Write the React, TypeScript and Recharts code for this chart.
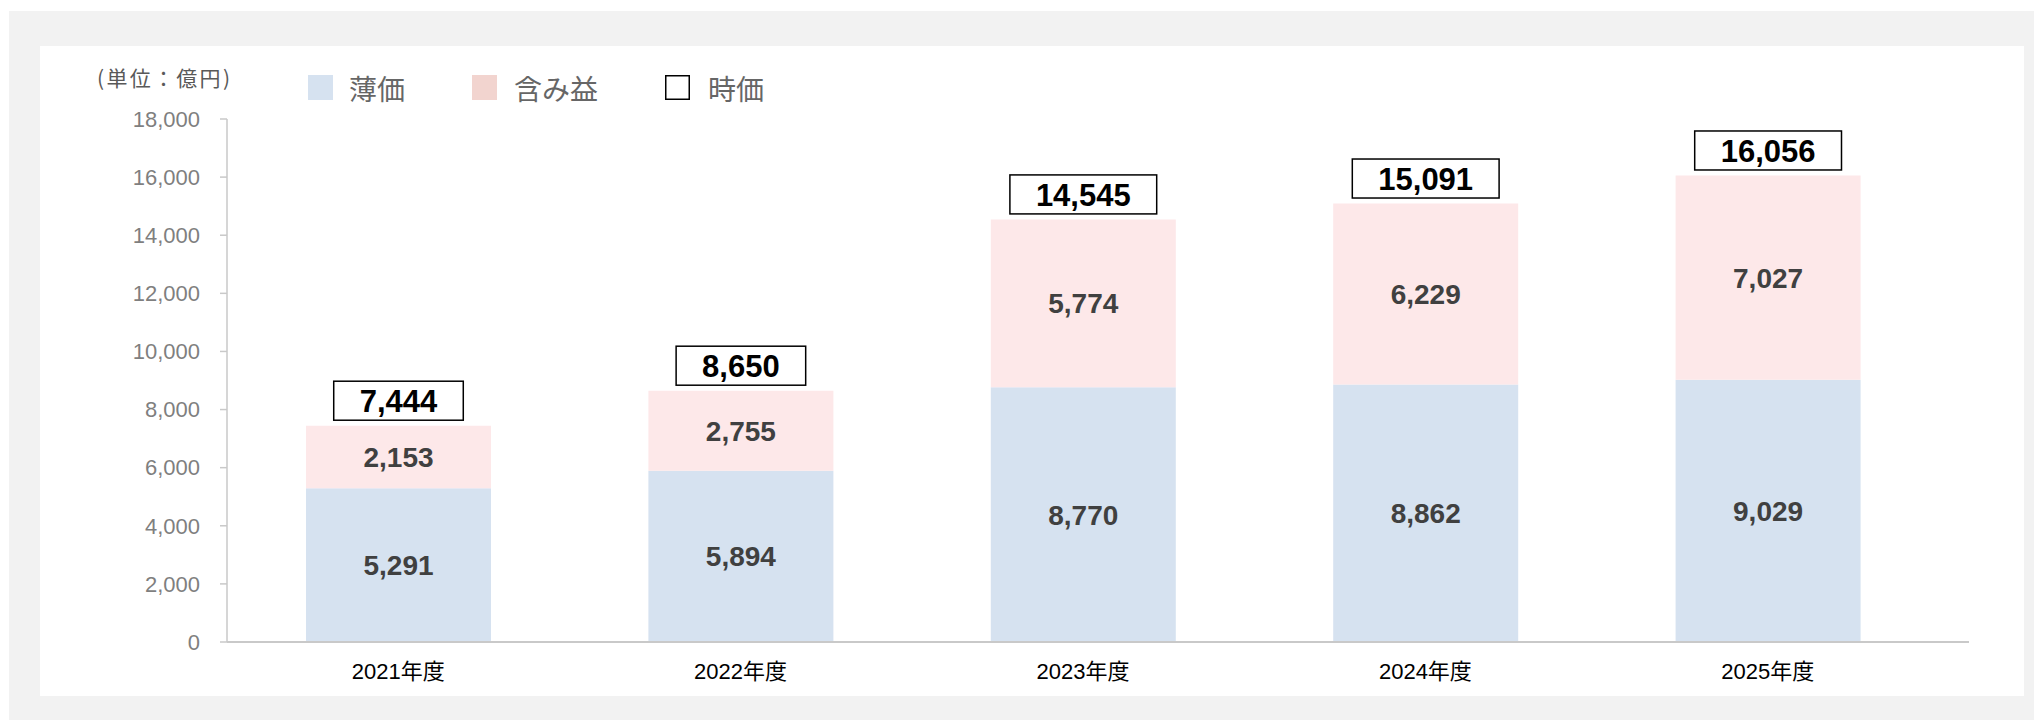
import React from 'react';
import { BarChart, Bar, XAxis, YAxis, LabelList } from 'recharts';

const categories = ['2021年度', '2022年度', '2023年度', '2024年度', '2025年度'];
const bookValue = [5291, 5894, 8770, 8862, 9029];
const unrealizedGain = [2153, 2755, 5774, 6229, 7027];
const marketValue = [7444, 8650, 14545, 15091, 16056];
const yTicks = [0, 2000, 4000, 6000, 8000, 10000, 12000, 14000, 16000, 18000];
const legendLabels = ['薄価', '含み益', '時価'];
const unitLabel = '(単位：億円)';

const data = categories.map((name, i) => ({
  name,
  book: bookValue[i],
  gain: unrealizedGain[i],
  total: marketValue[i],
}));

const FONT = "'Liberation Sans', Arial, 'Noto Sans CJK JP', sans-serif";
const CJK = "'Noto Sans CJK JP', 'Liberation Sans', sans-serif";
const fmt = (v: any) => Number(v).toLocaleString('en-US');

const TotalLabel = (props: any) => {
  const vb = props.viewBox || props;
  const x = Number(vb.x);
  const y = Number(vb.y);
  const width = Number(vb.width);
  const text = fmt(props.value);
  const fs = 31;
  const commas = (text.match(/,/g) || []).length;
  const tw = (text.length - commas) * 0.556 * fs + commas * 0.278 * fs;
  const bw = tw + 52;
  const bh = 39;
  const cx = x + width / 2;
  const by = y - 5.5 - bh;
  return (
    <g>
      <rect x={cx - bw / 2} y={by} width={bw} height={bh} fill="#fff" stroke="#000" strokeWidth={1.5} />
      <text
        x={cx}
        y={by + bh / 2 + 1}
        textAnchor="middle"
        dominantBaseline="central"
        fontFamily={FONT}
        fontSize={fs}
        fontWeight="bold"
        fill="#000"
      >
        {text}
      </text>
    </g>
  );
};

export default function App() {
  const legendItems = [
    { sq: 308, tx: 349, fill: '#d6e2f0', stroke: 'none' },
    { sq: 472, tx: 514, fill: '#f2d4cf', stroke: 'none' },
    { sq: 665, tx: 708, fill: '#fff', stroke: '#000' },
  ];
  return (
    <div style={{ position: 'absolute', left: 0, top: 0, width: 2034, height: 720, background: '#fff', overflow: 'hidden' }}>
      <div style={{ position: 'absolute', left: 9, top: 11, width: 2025, height: 709, background: '#f2f2f2' }} />
      <div style={{ position: 'absolute', left: 40, top: 46, width: 1984, height: 650, background: '#fff' }} />
      <svg width={2034} height={720} style={{ position: 'absolute', left: 0, top: 0 }}>
        <text
          x={97}
          y={77}
          dominantBaseline="central"
          fontFamily={CJK}
          fontSize={21}
          fill="#595959"
          textLength={133}
          lengthAdjust="spacing"
        >
          {unitLabel}
        </text>
        {legendItems.map((it, i) => (
          <g key={i}>
            <rect
              x={it.stroke === 'none' ? it.sq : it.sq + 0.75}
              y={it.stroke === 'none' ? 75 : 75.75}
              width={it.stroke === 'none' ? 25 : 23.5}
              height={it.stroke === 'none' ? 25 : 23.5}
              fill={it.fill}
              stroke={it.stroke}
              strokeWidth={1.5}
            />
            <text x={it.tx} y={88} dominantBaseline="central" fontFamily={CJK} fontSize={28} fill="#666">
              {legendLabels[i]}
            </text>
          </g>
        ))}
      </svg>
      <div style={{ position: 'absolute', left: 0, top: 0 }}>
        <BarChart width={2034} height={720} data={data} margin={{ top: 119, right: 65, bottom: 18, left: 127 }}>
          <XAxis
            dataKey="name"
            height={60}
            interval={0}
            padding={{ left: 0, right: 30 }}
            axisLine={{ stroke: '#c9c9c9', strokeWidth: 2 }}
            tickLine={false}
            tickMargin={15}
            tick={{ fill: '#000', fontSize: 22, fontFamily: FONT }}
          />
          <YAxis
            width={100}
            domain={[0, 18000]}
            ticks={yTicks}
            interval={0}
            tickFormatter={fmt}
            axisLine={{ stroke: '#c9c9c9', strokeWidth: 1.5 }}
            tickLine={{ stroke: '#c9c9c9', strokeWidth: 1.5 }}
            tickSize={7}
            tickMargin={20}
            tick={{ fill: '#7f7f7f', fontSize: 22, fontFamily: FONT }}
          />
          <Bar dataKey="book" stackId="a" fill="#d6e2f0" barSize={185} isAnimationActive={false}>
            <LabelList
              dataKey="book"
              position="center"
              formatter={fmt}
              fill="#404040"
              fontSize={28}
              fontWeight="bold"
              fontFamily={FONT}
            />
          </Bar>
          <Bar dataKey="gain" stackId="a" fill="#fde8e9" barSize={185} isAnimationActive={false}>
            <LabelList
              dataKey="gain"
              position="center"
              formatter={fmt}
              fill="#404040"
              fontSize={28}
              fontWeight="bold"
              fontFamily={FONT}
            />
            <LabelList dataKey="total" content={TotalLabel} />
          </Bar>
        </BarChart>
      </div>
    </div>
  );
}
